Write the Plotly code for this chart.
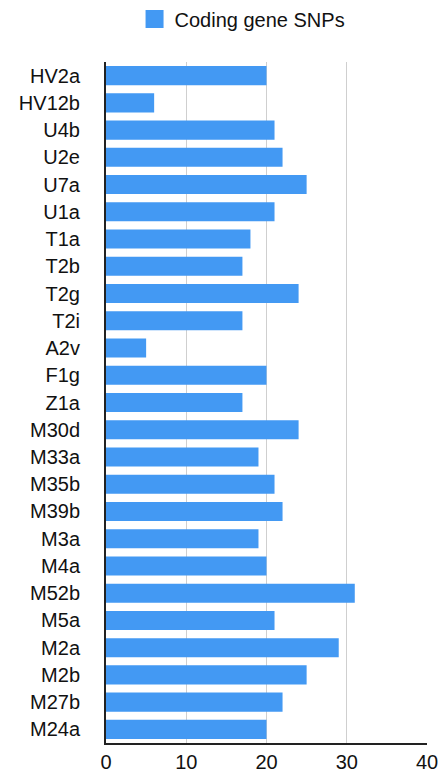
import plotly.graph_objects as go

categories = ["HV2a", "HV12b", "U4b", "U2e", "U7a", "U1a", "T1a", "T2b", "T2g", "T2i",
              "A2v", "F1g", "Z1a", "M30d", "M33a", "M35b", "M39b", "M3a", "M4a", "M52b",
              "M5a", "M2a", "M2b", "M27b", "M24a"]
snps = [20, 6, 21, 22, 25, 21, 18, 17, 24, 17,
        5, 20, 17, 24, 19, 21, 22, 19, 20, 31,
        21, 29, 25, 22, 20]
x_ticks = [0, 10, 20, 30, 40]
series_name = "Coding gene SNPs"

FONT = "Liberation Sans, Arial, Helvetica, sans-serif"
BLUE = "#4399F3"

fig = go.Figure()
fig.add_trace(go.Bar(
    x=snps, y=categories, orientation="h", name=series_name,
    marker=dict(color=BLUE, line=dict(width=0)),
    showlegend=False,
))
# legend entry with a larger square swatch
fig.add_trace(go.Scatter(
    x=[None], y=[None], mode="markers", name=series_name,
    marker=dict(symbol="square", size=16, color=BLUE, line=dict(color=BLUE, width=2)),
    showlegend=True, hoverinfo="skip",
))

fig.update_layout(
    width=441, height=776,
    margin=dict(l=106, r=14, t=62, b=33),
    paper_bgcolor="white", plot_bgcolor="white",
    bargap=0.3,
    font=dict(family=FONT, size=20, color="#111"),
    showlegend=True,
    legend=dict(orientation="h", x=0.55, xanchor="center", xref="container",
                y=0.9755, yanchor="middle", yref="container",
                font=dict(size=20, color="#111"),
                bgcolor="rgba(0,0,0,0)", itemsizing="trace"),
    xaxis=dict(range=[0, 40], tickvals=x_ticks, showgrid=True, gridcolor="#cfcfcf",
               gridwidth=1, showline=True, linecolor="#222", linewidth=2,
               zeroline=False, ticks="", tickfont=dict(size=20), fixedrange=True,
               automargin=False, ticklabelstandoff=0),
    yaxis=dict(autorange="reversed", showgrid=False, showline=True, linecolor="#222",
               linewidth=2, ticks="", ticklabelstandoff=20, tickfont=dict(size=20),
               automargin=False),
)

fig.write_html("out.html")
